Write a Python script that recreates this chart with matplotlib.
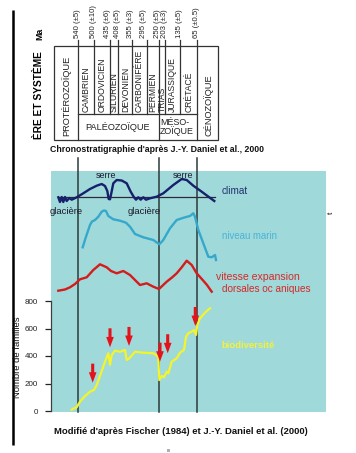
import matplotlib
matplotlib.use('Agg')
import matplotlib.pyplot as plt
from matplotlib.patches import Rectangle

plt.rcParams['font.family'] = ['Liberation Sans', 'DejaVu Sans']

# ---------------- data ----------------
age_labels = ['540 (±5)', '500 (±10)', '435 (±6)', '408 (±5)', '355 (±3)',
              '295 (±5)', '250 (±5)', '203 (±3)', '135 (±5)', '65 (±0.5)']
system_names = ['CAMBRIEN', 'ORDOVICIEN', 'SILURIEN', 'DEVONIEN', 'CARBONIFÈRE',
                'PERMIEN', 'TRIAS', 'JURASSIQUE', 'CRÉTACÉ']
era_names = ['PROTÉROZOÏQUE', 'PALÉOZOÏQUE', 'MÉSO-\nZOÏQUE', 'CÉNOZOÏQUE']

# qualitative curves (time position, relative level)
climate_t = [58.3, 60, 61.7, 63.3, 65, 66.7, 69.3, 71.7, 76.7, 83.3, 90, 96.7, 101.7,
             105, 107.3, 108.7, 110, 111.3, 113.3, 116.7, 121.7, 126.7, 130.7, 134,
             136, 138.3, 140.7, 143.3, 146, 150, 156.7, 163.3, 173.3, 181.7, 186.7,
             193.3, 201.7, 214.3]
climate_v = [197.3, 202, 197, 202, 197, 201, 198, 199.7, 197.3, 193.3, 189, 185.7, 184,
             186, 191, 199, 199.3, 193.3, 183.3, 180, 180.5, 183.3, 191.7, 197.3,
             199.7, 197.3, 199.7, 197.3, 199.7, 198.3, 196.7, 193.3, 185, 179, 180,
             185.7, 191.7, 201]

sea_t = [82.7, 86, 90, 92, 95, 98.3, 101.7, 104, 106, 108.3, 113.3, 120, 126, 130, 135,
         143.3, 153.3, 159.3, 163.3, 170, 176.7, 185, 190, 193.3, 195, 198.3, 203.3,
         208.3, 211.7, 215, 216]
sea_v = [247.3, 236.7, 225, 221.5, 220, 216.7, 211.7, 210.5, 211, 216, 219.3, 220.7,
         222.7, 226.7, 234, 237.3, 240, 244.3, 240, 228.3, 220, 217.3, 216, 213.3,
         216.7, 230, 243.3, 256.7, 257.3, 255, 260]

spread_t = [58.3, 65, 70, 75, 80, 86.7, 93.3, 100, 106.7, 111, 116.7, 123.3, 130, 135,
            140, 146.7, 153.3, 159, 166.7, 172, 176.7, 181.7, 186.7, 191.7, 196.7,
            203.3, 207, 211.7]
spread_v = [290.7, 289.5, 287.3, 284, 279.3, 277.3, 270, 264.3, 267.3, 271, 273.3, 271,
            275, 280, 285, 283.3, 286.7, 289, 281.7, 277.5, 273.3, 267.3, 260.7, 265,
            273.3, 280.7, 285, 291.7]

# biodiversity (number of families)
bio_t = [71.7, 72.7, 76.7, 80, 85, 90, 94, 96.7, 100, 105, 108.3, 110, 111.7, 115, 120,
         125, 126.7, 129.3, 135, 143.3, 153.3, 158.3, 159.3, 161.7, 164, 166.7, 168.3,
         171.7, 176.7, 180, 184, 186, 188.3, 191.7, 194, 196, 197.3, 200, 205, 210]
bio_n = [10, 15, 27, 68, 109, 140, 153, 189, 255, 359, 420, 335, 407, 439, 431, 444, 371,
         383, 431, 424, 420, 395, 225, 255, 245, 286, 274, 359, 383, 424, 444, 540, 565,
         577, 589, 553, 625, 674, 715, 747]
bio_ticks = [0, 200, 400, 600, 800]

# extinction arrows (time position, families at tip)
ext_t = [92.7, 110, 129, 160, 167.7, 195.3]
ext_n = [206, 463, 473, 359, 420, 618]

# ---------------- layout ----------------
W, H = 356, 453
bounds = [77.5, 93.5, 109.5, 118, 132, 146.5, 158.5, 164.5, 180, 197]
age_x = [77.7, 93.3, 107.7, 117.3, 130, 143.3, 157.7, 164.3, 179.3, 196.7]
box_l, box_r, box_t, box_m, box_b = 54, 218, 46, 114, 139.5
era_bounds = [0, 6, 9]  # indices of bounds separating eras

fig = plt.figure(figsize=(W / 100, H / 100), dpi=100)
ax = fig.add_axes([0, 0, 1, 1])
ax.set_xlim(0, W)
ax.set_ylim(H, 0)
ax.axis('off')

lc = '#333333'
# left black bar
ax.plot([13, 13], [10, 445], color='black', lw=1.8, solid_capstyle='butt')

# ---- chronostratigraphic table ----
ax.add_patch(Rectangle((box_l, box_t), box_r - box_l, box_b - box_t, fc='none', ec=lc, lw=0.9))
for i, x in enumerate(bounds):
    bottom = box_b if i in era_bounds else box_m
    ax.plot([x, x], [40, bottom], color=lc, lw=0.9)
ax.plot([bounds[0], bounds[-1]], [box_m, box_m], color=lc, lw=0.9)

for lab, x in zip(age_labels, age_x):
    ax.text(x, 38, lab, rotation=90, rotation_mode='anchor', ha='left', va='center',
            fontsize=5.6, color='#222222')

for i, name in enumerate(system_names):
    xc = (bounds[i] + bounds[i + 1]) / 2
    ax.text(xc + 0.3, 112, name, rotation=90, rotation_mode='anchor', ha='left',
            va='center', fontsize=6.2, color='#222222')

ax.text((box_l + bounds[0]) / 2 + 0.5, 136.5, era_names[0], rotation=90, rotation_mode='anchor',
        ha='left', va='center', fontsize=6.7, color='#222222')
ax.text((bounds[0] + bounds[6]) / 2, 127, era_names[1], ha='center', va='center',
        fontsize=6.6, color='#222222')
ax.text(bounds[6] + 1.5, 126.8, era_names[2], ha='left', va='center', fontsize=6.4,
        color='#222222', linespacing=0.95)
ax.text((bounds[-1] + box_r) / 2 + 0.5, 136.5, era_names[3], rotation=90, rotation_mode='anchor',
        ha='left', va='center', fontsize=6.7, color='#222222')

ax.text(40, 34, 'Ma', rotation=90, ha='center', va='center', fontsize=6.3, fontweight='bold')
ax.text(39.5, 95, 'ÈRE ET SYSTÈME', rotation=90, ha='center', va='center', fontsize=7.3,
        fontweight='bold')
ax.text(157, 150, "Chronostratigraphie d'après J.-Y. Daniel et al., 2000", ha='center',
        va='center', fontsize=6.3, fontweight='bold', color='#111111')

# ---- lower panel ----
ax.add_patch(Rectangle((51, 171), 275, 241, fc='#a0d9d9', ec='none'))
for i in era_bounds:
    ax.plot([bounds[i], bounds[i]], [158, 412], color='#2c3a3a', lw=1.1)

ax.plot([58, 215], [197.3, 197.3], color='#2a2a3a', lw=0.9)
ax.plot(climate_t, climate_v, color='#17206b', lw=1.7)
ax.plot(sea_t, sea_v, color='#35a8cc', lw=1.7)
ax.plot(spread_t, spread_v, color='#d41c1c', lw=1.7)

ax.text(106, 175.5, 'serre', ha='center', va='center', fontsize=6.4, color='#1a1a2a')
ax.text(183, 175, 'serre', ha='center', va='center', fontsize=6.4, color='#1a1a2a')
ax.text(66, 211, 'glacière', ha='center', va='center', fontsize=6.8, color='#1a1a2a')
ax.text(144, 211, 'glacière', ha='center', va='center', fontsize=6.8, color='#1a1a2a')
ax.text(221.5, 191, 'climat', ha='left', va='center', fontsize=7.2, color='#22306e')
ax.text(221.5, 236, 'niveau marin', ha='left', va='center', fontsize=6.9, color='#48b4d6')
ax.text(216.5, 277.5, 'vitesse expansion', ha='left', va='center', fontsize=7.6, color='#d42a2a')
ax.text(221.5, 289.5, 'dorsales oc aniques', ha='left', va='center', fontsize=7.2, color='#d42a2a')
ax.text(221.5, 345, 'biodiversité', ha='left', va='center', fontsize=6.8, color='#f2f23a',
        fontweight='bold')
ax.text(18, 357, 'Nombre de familles', rotation=90, ha='center', va='center', fontsize=6.8,
        color='#111111')
ax.text(331.5, 213, 't', rotation=90, ha='center', va='center', fontsize=6, color='#111111')
ax.add_patch(Rectangle((166.5, 449), 3, 3, fc='#b0b0b0', ec='none'))

ax.text(181, 431.5, "Modifié d'après Fischer (1984) et J.-Y. Daniel et al. (2000)",
        ha='center', va='center', fontsize=6.8, fontweight='bold', color='#111111')

# ---- biodiversity axes ----
y0, y800 = 411, 301
bx = fig.add_axes([51 / W, (H - y0) / H, (326 - 51) / W, (y0 - y800) / H])
bx.set_xlim(51, 326)
bx.set_ylim(0, 800)
bx.patch.set_alpha(0)
for s in ['top', 'right', 'bottom']:
    bx.spines[s].set_visible(False)
bx.spines['left'].set_color('#3a4040')
bx.spines['left'].set_linewidth(0.9)
bx.set_xticks([])
bx.set_yticks(bio_ticks)
bx.set_yticklabels([str(v) for v in bio_ticks])
bx.tick_params(axis='y', length=4.3, width=0.9, pad=5, labelsize=5.8, colors='#222222')

bx.plot(bio_t, bio_n, color='#f4f42c', lw=1.6, clip_on=False)
for t, n in zip(ext_t, ext_n):
    bx.annotate('', xy=(t, n), xytext=(0, 13.7), textcoords='offset points',
                arrowprops=dict(arrowstyle='simple,head_length=0.75,head_width=0.55,tail_width=0.22',
                                fc='#e3121b', ec='none', mutation_scale=10,
                                shrinkA=0, shrinkB=0))

fig.savefig('out.png', dpi=100)
